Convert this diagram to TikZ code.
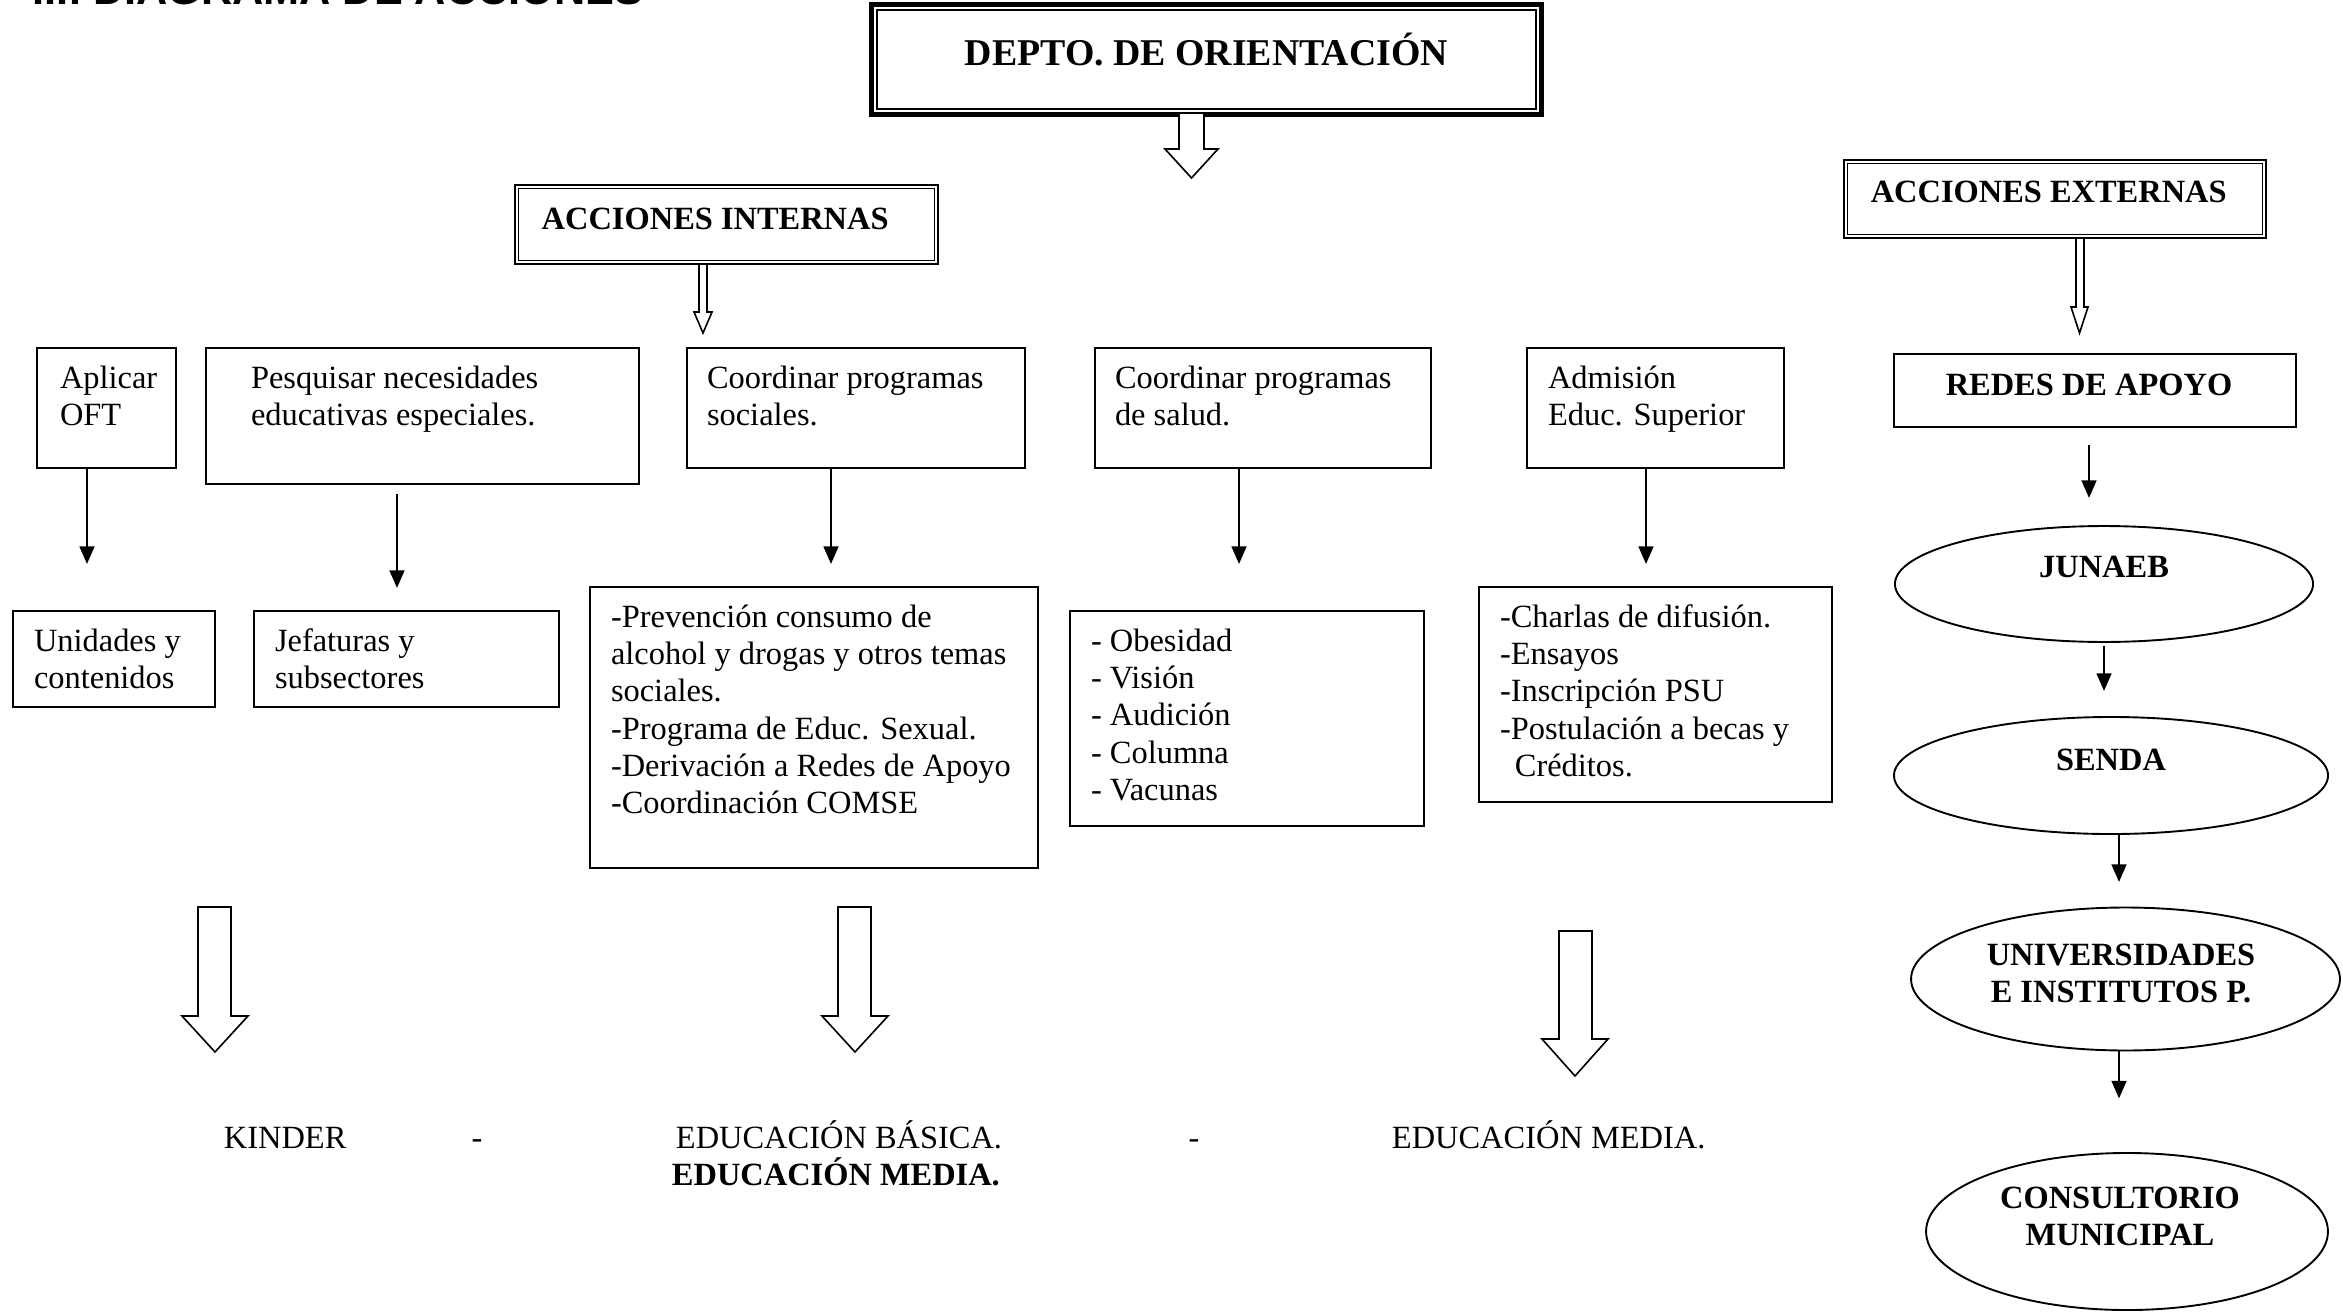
\documentclass[tikz,border=0pt]{standalone}
\usepackage{fontspec}
\setmainfont{Liberation Serif}
\newfontfamily\titlefont{Liberation Sans}
\usetikzlibrary{shapes.geometric,fit,arrows.meta}

\tikzset{every picture/.style={line width=0.7pt}}
\tikzset{
  box/.style={draw, rectangle, inner sep=0pt},
  oval/.style={draw, ellipse, inner sep=0pt},
  txt/.style={anchor=north west, inner sep=0pt, align=left, font=\fontsize{12}{13.8}\selectfont},
  head/.style={inner sep=0pt, align=center, font=\fontsize{12}{13.8}\selectfont\bfseries},
  plain/.style={anchor=base west, inner sep=0pt, font=\fontsize{12}{13.8}\selectfont},
  arr/.style={-{Triangle[width=5.5pt,length=6.5pt]}},
  hollow/.style={line width=0.6pt, fill=white}
}

\begin{document}
\begin{tikzpicture}[x=0.37pt,y=0.37pt,yscale=-1]
	\clip (0,0) rectangle (2343,1312);

	% Text Node
	\node[anchor=base west, inner sep=0pt, font=\titlefont\fontsize{16}{18}\selectfont\bfseries] (title) at (32,5) {III. DIAGRAMA DE ACCIONES};

	%Shape: Rectangle [triple frame]
	\node[box, line width=1.5pt, fit={(871,4) (1542,115)}] (depto) {};
	\draw[line width=0.5pt] ([shift={(4,4)}]depto.north west) rectangle ([shift={(-4,-4)}]depto.south east);
	\draw[line width=0.8pt] ([shift={(8,8)}]depto.north west) rectangle ([shift={(-8,-8)}]depto.south east);
	\node[head, anchor=base, font=\fontsize{14}{16}\selectfont\bfseries] (tdepto) at ([shift={(0,5.5)}]depto.center) {DEPTO. DE ORIENTACIÓN};
	%Shape: Down Arrow
	\draw[hollow] (1179,113) -- (1179,149) -- (1165,149) -- (1191.5,178) -- (1218,149) -- (1204,149) -- (1204,113) -- cycle;

	%Shape: Rectangle [double frame]
	\node[box, line width=0.9pt, fit={(515,185) (938,264)}] (intern) {};
	\draw[line width=0.5pt] ([shift={(5,5)}]intern.north west) rectangle ([shift={(-5,-5)}]intern.south east);
	\node[head, anchor=base west] (tintern) at ([shift={(27,46)}]intern.north west) {ACCIONES INTERNAS};
	%Shape: Down Arrow
	\draw[hollow] (699,264) -- (699,312) -- (694,312) -- (703,333) -- (712,312) -- (707,312) -- (707,264) -- cycle;

	%Shape: Rectangle [double frame]
	\node[box, line width=0.9pt, fit={(1844,160) (2266,238)}] (extern) {};
	\draw[line width=0.5pt] ([shift={(5,5)}]extern.north west) rectangle ([shift={(-5,-5)}]extern.south east);
	\node[head, anchor=base west] (textern) at ([shift={(27,44)}]extern.north west) {ACCIONES EXTERNAS};
	%Shape: Down Arrow
	\draw[hollow] (2076,238) -- (2076,307) -- (2071,307) -- (2079.5,333) -- (2088,307) -- (2084,307) -- (2084,238) -- cycle;

	% first row
	\node[box, fit={(37,348) (176,468)}] (oft) {};
	\node[txt] (toft) at ([shift={(23,14)}]oft.north west) {\strut Aplicar\\OFT};
	\node[box, fit={(206,348) (639,484)}] (nee) {};
	\node[txt] (tnee) at ([shift={(45,14)}]nee.north west) {\strut Pesquisar necesidades\\educativas especiales.};
	\node[box, fit={(687,348) (1025,468)}] (soc) {};
	\node[txt] (tsoc) at ([shift={(20,14)}]soc.north west) {\strut Coordinar programas\\sociales.};
	\node[box, fit={(1095,348) (1431,468)}] (sal) {};
	\node[txt] (tsal) at ([shift={(20,14)}]sal.north west) {\strut Coordinar programas\\de salud.};
	\node[box, fit={(1527,348) (1784,468)}] (adm) {};
	\node[txt] (tadm) at ([shift={(21,14)}]adm.north west) {\strut Admisión\\Educ. Superior};

	% second row
	\node[box, fit={(13,611) (215,707)}] (uni) {};
	\node[txt] (tuni) at ([shift={(21,14)}]uni.north west) {\strut Unidades y\\contenidos};
	\node[box, fit={(254,611) (559,707)}] (jef) {};
	\node[txt] (tjef) at ([shift={(21,14)}]jef.north west) {\strut Jefaturas y\\subsectores};
	\node[box, fit={(590,587) (1038,868)}] (prev) {};
	\node[txt] (tprev) at ([shift={(21,14)}]prev.north west) {\strut -Prevención consumo de\\alcohol y drogas y otros temas\\sociales.\\-Programa de Educ. Sexual.\\-Derivación a Redes de Apoyo\\-Coordinación COMSE};
	\node[box, fit={(1070,611) (1424,826)}] (obes) {};
	\node[txt] (tobes) at ([shift={(21,14)}]obes.north west) {\strut - Obesidad\\- Visión\\- Audición\\- Columna\\- Vacunas};
	\node[box, fit={(1479,587) (1832,802)}] (charl) {};
	\node[txt] (tcharl) at ([shift={(21,14)}]charl.north west) {\strut -Charlas de difusión.\\-Ensayos\\-Inscripción PSU\\-Postulación a becas y\\\hspace*{5.5pt}Créditos.};

	% arrows between rows
	\draw[arr] (oft.south) ++(-19.5,0) -- ++(0,95);
	\draw[arr] (nee.south) ++(-25.5,9) -- ++(0,94);
	\draw[arr] (soc.south) ++(-25,0) -- ++(0,95);
	\draw[arr] (sal.south) ++(-24,0) -- ++(0,95);
	\draw[arr] (adm.south) ++(-9.5,0) -- ++(0,95);

	% external chain
	\node[box, fit={(1894,354) (2296,427)}] (redes) {};
	\node[head, anchor=base] (tredes) at ([shift={(-6,4.5)}]redes.center) {REDES DE APOYO};
	\node[oval, minimum width=154.7pt, minimum height=42.9pt] (junaeb) at (2104,584) {};
	\node[head, anchor=base] (tjunaeb) at ([shift={(0,-7)}]junaeb.center) {JUNAEB};
	\node[oval, minimum width=160.6pt, minimum height=43.3pt] (senda) at (2111,775.5) {};
	\node[head, anchor=base] (tsenda) at ([shift={(0,-5.5)}]senda.center) {SENDA};
	\node[oval, minimum width=158.7pt, minimum height=52.9pt] (univ) at (2125.5,979) {};
	\node[head, anchor=north] (tuniv) at (2121,938) {\strut UNIVERSIDADES\\E INSTITUTOS P.};
	\node[oval, minimum width=148.7pt, minimum height=58.1pt] (consul) at (2127,1231.5) {};
	\node[head, anchor=north] (tconsul) at (2120,1181) {\strut CONSULTORIO\\MUNICIPAL};

	\draw[arr] (redes.south) ++(-6,17) -- ++(0,53);
	\draw[arr] (junaeb.south) ++(0,3) -- ++(0,45);
	\draw[arr] (senda.south) ++(8,0) -- ++(0,47);
	\draw[arr] (univ.south) ++(-6.5,0) -- ++(0,47);

	%Shape: Down Arrow
	\draw[hollow] (198,907) -- (198,1016) -- (182,1016) -- (215,1052) -- (248,1016) -- (231,1016) -- (231,907) -- cycle;
	%Shape: Down Arrow
	\draw[hollow] (838,907) -- (838,1016) -- (822,1016) -- (855,1052) -- (888,1016) -- (871,1016) -- (871,907) -- cycle;
	%Shape: Down Arrow
	\draw[hollow] (1559,931) -- (1559,1039) -- (1542,1039) -- (1575,1076) -- (1608,1039) -- (1592,1039) -- (1592,931) -- cycle;

	% Text Node
	\node[plain] (kinder) at (223,1148) {KINDER};
	\node[plain, anchor=base] (dash1) at (477,1148) {-};
	\node[plain] (basica) at (675,1148) {EDUCACIÓN BÁSICA.};
	\node[plain, font=\fontsize{12}{13.8}\selectfont\bfseries] (mediab) at (671,1185) {EDUCACIÓN MEDIA.};
	\node[plain, anchor=base] (dash2) at (1194,1148) {-};
	\node[plain] (media) at (1391,1148) {EDUCACIÓN MEDIA.};
\end{tikzpicture}
\end{document}
